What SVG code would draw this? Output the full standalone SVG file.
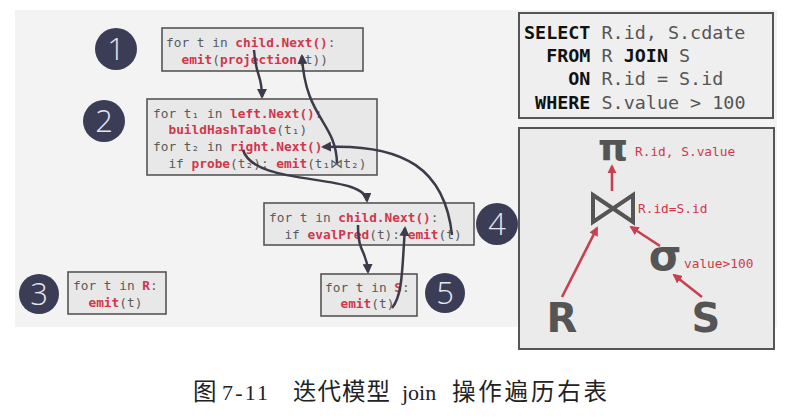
<svg xmlns="http://www.w3.org/2000/svg" width="793" height="418" viewBox="0 0 793 418">
<defs>
<style>
.code{font-family:"DejaVu Sans Mono","Liberation Mono",monospace;font-size:12.8px;fill:#5a5a5a;white-space:pre}
.k{fill:#d0374c;font-weight:bold}
.box{fill:#e8e8e8;stroke:#555;stroke-width:1.6}
.num{fill:#3a3d55}
.numt{font-family:"Open Sans","Liberation Sans",sans-serif;font-weight:300;font-size:31px;fill:#e6e6ee;text-anchor:middle}
.conn{fill:none;stroke:#3b3b4a;stroke-width:2.5}
.red{fill:none;stroke:#c8404f;stroke-width:2.6}
.sql{font-family:"DejaVu Sans Mono","Liberation Mono",monospace;font-size:18.4px;fill:#555;white-space:pre}
.sk{fill:#111;font-weight:bold}
.lbl{font-family:"DejaVu Sans Mono","Liberation Mono",monospace;font-size:12.8px;fill:#d0374c}
.big{font-family:"DejaVu Sans","Liberation Sans",sans-serif;font-weight:bold;fill:#555;text-anchor:middle}
.cap{font-family:"Liberation Serif","Noto Sans CJK SC",serif;font-size:22px;fill:#222}
.capc{font-family:"Liberation Serif","Noto Sans CJK SC",serif;font-size:23.5px;fill:#222}
</style>
<marker id="ah" viewBox="0 0 10 10" refX="8" refY="5" markerWidth="4" markerHeight="4" orient="auto-start-reverse" markerUnits="strokeWidth">
<path d="M0,0 L10,5 L0,10 Z" fill="#3b3b4a"/>
</marker>
<marker id="ahr" viewBox="0 0 10 10" refX="8" refY="5" markerWidth="3.6" markerHeight="3.6" orient="auto" markerUnits="strokeWidth">
<path d="M0,0 L10,5 L0,10 Z" fill="#c8404f"/>
</marker>
</defs>
<rect x="0" y="0" width="793" height="418" fill="#ffffff"/>
<rect x="15" y="10" width="762" height="317" fill="#f3f3f3"/>

<g id="n1">
<circle class="num" cx="116" cy="49" r="21"/>
<text class="numt" x="116" y="60">1</text>
</g>
<g id="op1">
<rect class="box" x="162" y="28" width="201" height="43"/>
<text class="code" x="166" y="46.5">for t in <tspan class="k">child.Next()</tspan>:</text>
<text class="code" x="166" y="63.5">  <tspan class="k">emit</tspan>(<tspan class="k">projection</tspan>(t))</text>
</g>
<g id="n2">
<circle class="num" cx="104" cy="121" r="21"/>
<text class="numt" x="104" y="132">2</text>
</g>
<g id="op2">
<rect class="box" x="147" y="99" width="230" height="76"/>
<text class="code" x="153" y="117.5">for t₁ in <tspan class="k">left.Next()</tspan>:</text>
<text class="code" x="153" y="134">  <tspan class="k">buildHashTable</tspan>(t₁)</text>
<text class="code" x="153" y="151">for t₂ in <tspan class="k">right.Next()</tspan></text>
<text class="code" x="153" y="167.5">  if <tspan class="k">probe</tspan>(t₂): <tspan class="k">emit</tspan>(t₁⋈t₂)</text>
</g>
<g id="n3">
<circle class="num" cx="39" cy="294" r="20"/>
<text class="numt" x="39" y="305">3</text>
</g>
<g id="op3">
<rect class="box" x="68" y="272" width="98" height="42"/>
<text class="code" x="73" y="289.5">for t in <tspan class="k">R</tspan>:</text>
<text class="code" x="73" y="306.5">  <tspan class="k">emit</tspan>(t)</text>
</g>
<g id="n4">
<circle class="num" cx="497" cy="224" r="21"/>
<text class="numt" x="497" y="235">4</text>
</g>
<g id="op4">
<rect class="box" x="264" y="203" width="210" height="42"/>
<text class="code" x="269" y="221.5">for t in <tspan class="k">child.Next()</tspan>:</text>
<text class="code" x="269" y="238.5">  if <tspan class="k">evalPred</tspan>(t): <tspan class="k">emit</tspan>(t)</text>
</g>
<g id="n5">
<circle class="num" cx="445" cy="293" r="20"/>
<text class="numt" x="445" y="304">5</text>
</g>
<g id="op5">
<rect class="box" x="321" y="274" width="96" height="42"/>
<text class="code" x="325" y="291.5">for t in <tspan class="k">S</tspan>:</text>
<text class="code" x="325" y="307.5">  <tspan class="k">emit</tspan>(t)</text>
</g>

<g id="connectors">
<path class="conn" d="M254,50 C256,78 262,74 262,97" marker-end="url(#ah)"/>
<path class="conn" d="M337,163 C336,122 305,118 302,56" marker-end="url(#ah)"/>
<path class="conn" d="M452,235 C445,170 405,143 323,147" marker-end="url(#ah)"/>
<path class="conn" d="M243,150 C255,188 365,172 367,201" marker-end="url(#ah)"/>
<path class="conn" d="M358,225 C358,255 367,250 368,272" marker-end="url(#ah)"/>
<path class="conn" d="M392,308 C403,295 402,268 405,228" marker-end="url(#ah)"/>
</g>

<g id="sql">
<rect x="519" y="13" width="254" height="105" fill="#efefef" stroke="#555" stroke-width="2"/>
<text class="sql" x="524" y="38.5"><tspan class="sk">SELECT</tspan> R.id, S.cdate</text>
<text class="sql" x="524" y="61.5">  <tspan class="sk">FROM</tspan> R <tspan class="sk">JOIN</tspan> S</text>
<text class="sql" x="524" y="84.5">    <tspan class="sk">ON</tspan> R.id = S.id</text>
<text class="sql" x="524" y="108.5"> <tspan class="sk">WHERE</tspan> S.value &gt; 100</text>
</g>

<g id="tree">
<rect x="519" y="128" width="255" height="221" fill="#ebebeb" stroke="#555" stroke-width="2"/>
<text class="big" x="613" y="160" font-size="38" font-family="DejaVu Serif,serif">π</text>
<text class="lbl" x="635" y="155.5">R.id, S.value</text>
<path d="M593,195 L633,222 L633,195 L593,222 Z" fill="none" stroke="#555" stroke-width="4"/>
<text class="lbl" x="638" y="212.5">R.id=S.id</text>
<text class="big" x="665" y="270" font-size="42">σ</text>
<text class="lbl" x="684" y="267.5">value&gt;100</text>
<text class="big" x="562" y="332" font-size="40">R</text>
<text class="big" x="706" y="332" font-size="40">S</text>
<path class="red" d="M612,191 L612,166" marker-end="url(#ahr)"/>
<path class="red" d="M562,297 L597,228" marker-end="url(#ahr)"/>
<path class="red" d="M660,246 L631,227" marker-end="url(#ahr)"/>
<path class="red" d="M702,297 L674,275" marker-end="url(#ahr)"/>
</g>

<g id="caption">
<text class="capc" x="193" y="400">图</text>
<text class="cap" x="222" y="400" textLength="46">7-11</text>
<text class="capc" x="293" y="400" textLength="97">迭代模型</text>
<text class="cap" x="402" y="400">join</text>
<text class="capc" x="452" y="400" textLength="155">操作遍历右表</text>
</g>
</svg>
